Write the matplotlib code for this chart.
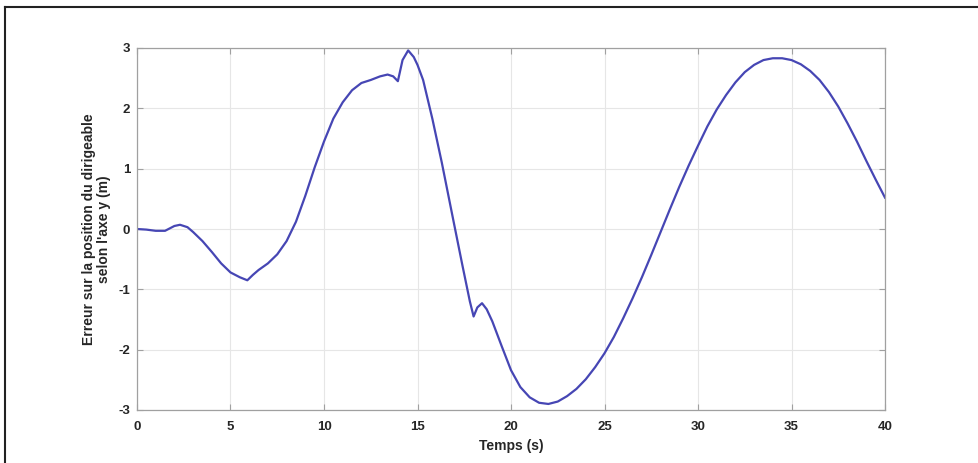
import matplotlib
matplotlib.use("Agg")
import matplotlib.pyplot as plt
from matplotlib.lines import Line2D

plt.rcParams['font.family'] = ['Liberation Sans', 'DejaVu Sans']
plt.rcParams['axes.unicode_minus'] = False

# Time (s) and position error along y (m)
temps = [0.0, 0.5, 1.0, 1.5, 2.0, 2.3, 2.7, 3.0, 3.5, 4.0, 4.5, 5.0, 5.5, 5.9,
         6.2, 6.5, 7.0, 7.5, 8.0, 8.5, 9.0, 9.5, 10.0, 10.5, 11.0, 11.5, 12.0,
         12.5, 13.0, 13.4, 13.7, 13.95, 14.2, 14.5, 14.8, 15.0, 15.3, 15.8,
         16.3, 16.9, 17.4, 17.8, 18.0, 18.2, 18.45, 18.7, 19.0, 19.5, 20.0,
         20.5, 21.0, 21.5, 22.0, 22.5, 23.0, 23.5, 24.0, 24.5, 25.0, 25.5,
         26.0, 26.5, 27.0, 27.5, 28.0, 28.5, 29.0, 29.5, 30.0, 30.5, 31.0,
         31.5, 32.0, 32.5, 33.0, 33.5, 34.0, 34.5, 35.0, 35.5, 36.0, 36.5,
         37.0, 37.5, 38.0, 38.5, 39.0, 39.5, 40.0]
erreur_y = [0.00, -0.01, -0.03, -0.03, 0.05, 0.07, 0.03, -0.05, -0.20, -0.38,
            -0.57, -0.72, -0.80, -0.85, -0.76, -0.68, -0.57, -0.42, -0.20,
            0.12, 0.55, 1.02, 1.45, 1.83, 2.10, 2.30, 2.42, 2.47, 2.53, 2.56,
            2.53, 2.45, 2.80, 2.96, 2.85, 2.72, 2.47, 1.82, 1.10, 0.17, -0.60,
            -1.20, -1.45, -1.30, -1.23, -1.33, -1.53, -1.94, -2.34, -2.62,
            -2.79, -2.88, -2.90, -2.86, -2.77, -2.65, -2.49, -2.29, -2.06,
            -1.79, -1.48, -1.15, -0.80, -0.43, -0.05, 0.33, 0.70, 1.05, 1.38,
            1.70, 1.98, 2.22, 2.43, 2.60, 2.72, 2.80, 2.83, 2.83, 2.80, 2.73,
            2.62, 2.47, 2.27, 2.03, 1.75, 1.45, 1.13, 0.82, 0.52]

x_ticks = [0, 5, 10, 15, 20, 25, 30, 35, 40]
y_ticks = [-3, -2, -1, 0, 1, 2, 3]

W, H = 979, 463
fig = plt.figure(figsize=(W / 100, H / 100), dpi=100)
ax = fig.add_axes([137 / W, 1 - 410 / H, (885 - 137) / W, (410 - 48) / H])

ax.plot(temps, erreur_y, color='#4646b4', linewidth=1.6)

ax.set_xlim(0, 40)
ax.set_ylim(-3, 3)
ax.set_xticks(x_ticks)
ax.set_yticks(y_ticks)
ax.grid(True, color='#e6e6e6', linewidth=0.8)
ax.set_axisbelow(True)
for s in ax.spines.values():
    s.set_color('#a0a0a0')
    s.set_linewidth(0.9)
ax.tick_params(direction='in', length=4, width=0.8, color='#a0a0a0',
               labelsize=9.5, labelcolor='#262626', top=True, right=True,
               labeltop=False, labelright=False)
ax.tick_params(axis='x', pad=8)
ax.tick_params(axis='y', pad=5)
for lab in ax.get_xticklabels() + ax.get_yticklabels():
    lab.set_fontweight('bold')

ax.set_xlabel('Temps (s)', fontsize=10, fontweight='bold', color='#262626',
              labelpad=4)
ax.set_ylabel("Erreur sur la position du dirigeable\nselon l'axe y (m)",
              fontsize=10, fontweight='bold', color='#262626', labelpad=5,
              linespacing=1.1)

# Dark frame around the figure (top and left edges)
fig.add_artist(Line2D([5 / W, 1.0], [1 - 7 / H, 1 - 7 / H],
                      transform=fig.transFigure, color='#222222', linewidth=1.5))
fig.add_artist(Line2D([5 / W, 5 / W], [0.0, 1 - 7 / H],
                      transform=fig.transFigure, color='#222222', linewidth=1.5))

fig.savefig('out.png', dpi=100)
